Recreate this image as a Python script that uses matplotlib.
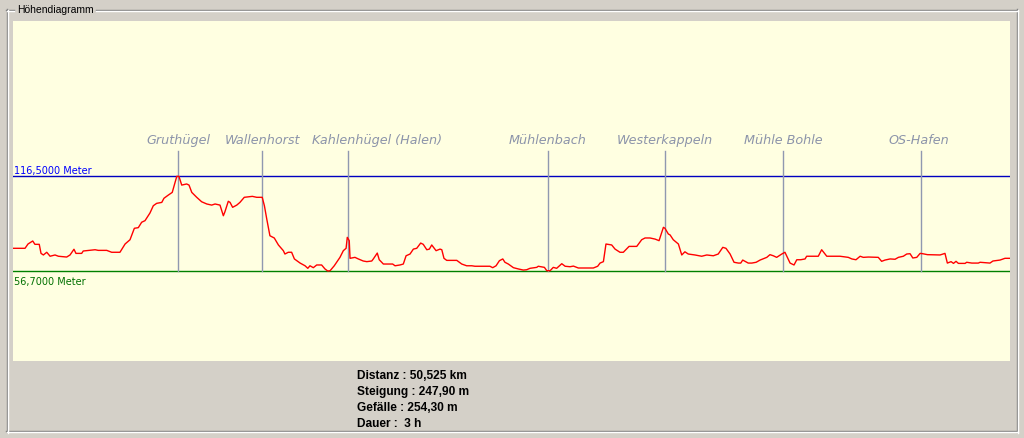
import matplotlib
matplotlib.use("Agg")
import matplotlib.pyplot as plt

# elevation profile, distance in km / height in m
dist_km = [0.0, 0.35, 0.61, 0.76, 1.00, 1.11, 1.33, 1.42, 1.54, 1.71, 1.88, 2.13, 2.30,
           2.72, 2.89, 3.09, 3.19, 3.48, 3.56, 4.16, 4.32, 4.75, 5.00, 5.42, 5.68, 5.93,
           6.15, 6.35, 6.52, 6.69, 6.94, 7.11, 7.28, 7.54, 7.65, 7.87, 8.07, 8.21, 8.30,
           8.38, 8.41, 8.55, 8.80, 8.92, 9.06, 9.31, 9.56, 9.82, 10.07, 10.24, 10.49,
           10.66, 10.74, 10.91, 11.00, 11.13, 11.34, 11.50, 11.72, 12.13, 12.35, 12.63,
           12.74, 12.86, 13.02, 13.24, 13.45, 13.70, 13.78, 13.95, 14.12, 14.26, 14.55,
           14.80, 14.94, 15.05, 15.22, 15.39, 15.64, 15.81, 15.95, 16.07, 16.28, 16.57,
           16.74, 16.88, 16.94, 17.04, 17.08, 17.33, 17.50, 17.75, 17.93, 18.18, 18.26,
           18.46, 18.56, 18.77, 19.11, 19.24, 19.36, 19.61, 19.78, 19.92, 20.12, 20.29,
           20.46, 20.66, 20.79, 20.97, 21.10, 21.22, 21.44, 21.64, 21.73, 21.84, 21.98,
           22.49, 22.74, 22.99, 23.25, 23.41, 24.17, 24.31, 24.48, 24.65, 24.82, 24.93,
           25.10, 25.36, 25.61, 25.86, 26.03, 26.20, 26.54, 26.62, 26.93, 27.05, 27.22,
           27.38, 27.55, 27.81, 27.98, 28.23, 28.40, 28.65, 29.41, 29.63, 29.75, 29.92,
           30.05, 30.34, 30.51, 30.76, 30.93, 31.22, 31.61, 31.86, 32.03, 32.28, 32.54,
           32.74, 32.96, 33.04, 33.21, 33.30, 33.46, 33.72, 33.89, 34.05, 34.22, 34.56,
           34.90, 35.16, 35.49, 35.74, 35.97, 36.13, 36.34, 36.54, 36.76, 36.88, 36.98,
           37.26, 37.44, 37.66, 37.86, 38.20, 38.36, 38.53, 38.70, 38.96, 39.12, 39.24,
           39.38, 39.58, 39.72, 39.92, 40.14, 40.22, 40.64, 40.81, 40.98, 41.24, 41.91,
           42.33, 42.51, 42.72, 42.93, 43.09, 43.35, 43.85, 44.02, 44.19, 44.45, 44.70,
           44.87, 45.12, 45.29, 45.46, 45.60, 45.80, 45.97, 46.10, 46.34, 46.98, 47.23,
           47.35, 47.54, 47.66, 47.79, 47.91, 48.25, 48.33, 48.59, 48.92, 49.01, 49.51,
           49.66, 50.02, 50.27, 50.525]
elev_m = [71.0, 71.0, 71.0, 73.7, 75.6, 73.5, 73.5, 67.8, 66.8, 68.5, 66.0, 66.8, 66.0,
          65.5, 66.8, 70.4, 67.8, 67.8, 69.3, 70.1, 69.7, 69.7, 68.5, 68.5, 73.7, 76.4,
          83.6, 84.0, 87.4, 88.4, 93.2, 97.8, 99.3, 99.9, 102.5, 104.5, 106.2, 112.5, 116.3,
          116.3, 116.3, 110.8, 111.5, 110.8, 106.2, 103.1, 100.3, 98.9, 98.2, 98.9, 98.2,
          91.5, 94.0, 100.6, 99.9, 96.8, 98.2, 99.9, 103.1, 103.7, 103.1, 103.1,
          97.8, 89.4, 78.9, 77.5, 73.1, 69.5, 67.4, 68.5, 68.5, 64.3, 61.7,
          60.0, 58.4, 60.0, 58.8, 60.5, 60.5, 58.0, 56.7, 56.9, 60.0, 65.3,
          69.5, 71.0, 77.9, 75.8, 64.7, 65.3, 64.3, 63.0, 62.6, 63.0, 64.3,
          68.0, 63.8, 61.1, 61.1, 61.1, 60.0, 60.5, 61.1, 66.3, 67.4, 70.5,
          71.0, 74.3, 73.5, 70.1, 70.5, 73.1, 69.5, 70.5, 70.1, 64.7, 63.4,
          63.4, 61.1, 60.0, 60.0, 59.7, 59.7, 58.8, 60.0, 63.2, 64.3, 62.2,
          61.1, 58.8, 58.0, 57.3, 57.5, 58.4, 59.0, 59.7, 59.0, 56.9, 56.9,
          59.0, 58.4, 61.3, 59.7, 59.4, 59.8, 58.6, 58.6, 59.7, 61.7, 62.6,
          73.7, 73.1, 70.5, 68.5, 68.5, 72.2, 72.2, 76.4, 77.5, 77.5, 76.8,
          75.8, 84.2, 83.6, 80.0, 79.4, 76.4, 73.7, 66.8, 68.8, 67.4, 66.8,
          66.0, 66.8, 66.3, 67.4, 71.6, 71.0, 67.4, 62.2, 61.7, 61.7, 63.6,
          61.7, 61.7, 62.2, 63.6, 65.3, 67.0, 66.3, 65.3, 67.4, 68.5, 65.3,
          61.7, 60.5, 63.8, 63.8, 64.3, 66.0, 66.0, 66.0, 70.1, 66.0, 66.0,
          65.3, 64.3, 63.8, 66.0, 65.3, 65.5, 65.3, 62.8, 63.6, 64.3, 64.1,
          65.3, 66.0, 67.4, 67.6, 64.9, 65.3, 67.8, 67.6, 67.0, 66.8, 67.8,
          61.7, 62.6, 61.5, 62.8, 61.5, 61.5, 62.2, 61.7, 61.7, 62.2, 61.7,
          63.0, 63.6, 64.7, 64.7]

place_names = ["Gruthügel", "Wallenhorst", "Kahlenhügel (Halen)", "Mühlenbach",
               "Westerkappeln", "Mühle Bohle", "OS-Hafen"]
place_km = [8.36, 12.62, 16.98, 27.11, 33.04, 39.02, 46.02]
# label centre (km); Kahlenhügel's label is pushed right to clear Wallenhorst
label_km = [8.36, 12.62, 18.45, 27.11, 33.04, 39.02, 45.89]

max_elev = 116.5
min_elev = 56.7
total_km = 50.525

stats = ["Distanz : 50,525 km", "Steigung : 247,90 m", "Gefälle : 254,30 m", "Dauer :  3 h"]

W, H = 1024, 439
fig = plt.figure(figsize=(W / 100, H / 100), dpi=100, facecolor="#D4D0C8")

# group box frame drawn in pixel coords
frame = fig.add_axes([0, 0, 1, 1], zorder=0)
frame.set_xlim(0, W)
frame.set_ylim(H, 0)
frame.axis("off")
gray, white = "#808080", "#FFFFFF"
for off, c in [(0, gray), (1, white)]:
    frame.plot([6 + off, 14], [10.5 + off, 10.5 + off], color=c, lw=1)
    frame.plot([96, 1017 + off], [10.5 + off, 10.5 + off], color=c, lw=1)
    frame.plot([6.5 + off, 6.5 + off], [10 + off, 433 + off], color=c, lw=1)
    frame.plot([1016.5 + off, 1016.5 + off], [10 + off, 433.5 + off], color=c, lw=1)
    frame.plot([6 + off, 1017 + off], [432.5 + off, 432.5 + off], color=c, lw=1)
frame.text(17, 10, "Höhendiagramm", fontsize=7.5, family="Liberation Sans",
           va="center", ha="left", color="black")
for i, s in enumerate(stats):
    frame.text(357, 376 + 16 * i, s, fontsize=8.6, family="Liberation Sans",
               fontweight="bold", va="center", ha="left", color="black")

ax = fig.add_axes([13 / W, 1 - 362 / H, 997 / W, 340 / H], zorder=1)
ax.set_facecolor("#FFFFE1")
ax.set_xlim(0, total_km)
ax.set_ylim(0.05, 214.1)
for sp in ax.spines.values():
    sp.set_visible(False)
ax.set_xticks([])
ax.set_yticks([])

ax.axhline(max_elev, color="#0000C0", lw=1)
ax.axhline(min_elev, color="#008000", lw=1)
ax.text(0.05, max_elev + 0.8, "116,5000 Meter", color="#0000FF", fontsize=7,
        family="DejaVu Sans", va="bottom", ha="left")
ax.text(0.05, min_elev - 3.2, "56,7000 Meter", color="#007000", fontsize=7,
        family="DejaVu Sans", va="top", ha="left")

for name, km, lkm in zip(place_names, place_km, label_km):
    ax.plot([km, km], [min_elev, 132.2], color="#9098B0", lw=1)
    ax.text(lkm, 139.2, name, color="#8C94AA", fontsize=9.2, style="italic",
            family="DejaVu Sans", ha="center", va="center")

ax.plot(dist_km, elev_m, color="#FF0000", lw=1)

fig.savefig("out.png", dpi=100, facecolor=fig.get_facecolor())
